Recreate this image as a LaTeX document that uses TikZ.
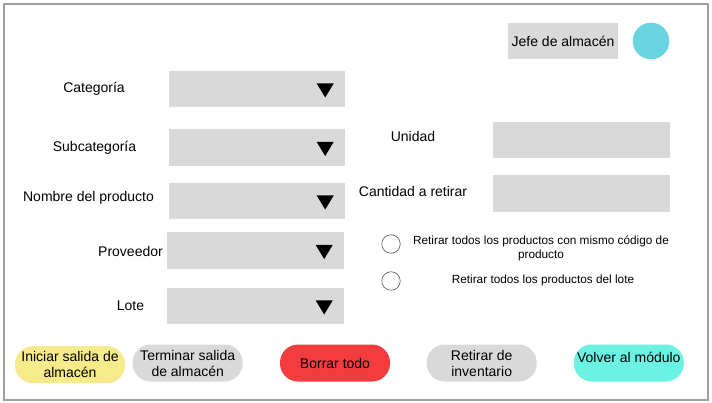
\documentclass[tikz,border=0pt]{standalone}
\usepackage{fontspec}
\setmainfont{Liberation Sans}
\definecolor{fieldgray}{RGB}{217,217,217}
\definecolor{framegray}{RGB}{158,158,158}
\definecolor{avatarcyan}{RGB}{104,213,224}
\definecolor{btnyellow}{RGB}{246,234,138}
\definecolor{btnred}{RGB}{243,60,62}
\definecolor{btnteal}{RGB}{108,242,226}
\definecolor{radiogray}{RGB}{90,90,90}
\tikzset{
  field/.style={fill=fieldgray, draw=none, inner sep=0pt, minimum width=#1},
  field/.default=176pt,
  lbl/.style={font=\fontsize{14}{16}\selectfont, inner sep=0pt, text=black},
  small/.style={font=\fontsize{11.8}{14}\selectfont, inner sep=0pt, align=center},
  btn/.style={rounded corners=18pt, minimum width=110pt, minimum height=37pt, inner sep=0pt,
     draw=none, font=\fontsize{14}{16}\selectfont, align=center},
  radio/.style={circle, draw=radiogray, line width=0.6pt, minimum size=18.5pt, inner sep=0pt},
  arrowtri/.style={fill=black, draw=none}
}
\begin{document}
\begin{tikzpicture}[x=1pt,y=-1pt]
\useasboundingbox (0,0) rectangle (712,403);
\fill[white] (0,0) rectangle (712,403);
\draw[framegray, line width=1.3pt] (4,4) rectangle (708,400);

% header
\node[field=110pt, minimum height=36pt, lbl] (jefe) at (563,41) {Jefe de almacén};
\node[circle, fill=avatarcyan, minimum size=36.6pt, inner sep=0pt] (avatar) at (651,41) {};

% dropdowns
\node[field=176pt, minimum height=36pt] (cat) at (257,89) {};
\node[field=176pt, minimum height=37pt] (sub) at (257,147.5) {};
\node[field=176pt, minimum height=36pt] (nom) at (257,201) {};
\node[field=177pt, minimum height=37pt] (prov) at (255.5,250.5) {};
\node[field=177pt, minimum height=36pt] (lote) at (255.5,306) {};

\foreach \n in {cat,sub,nom,prov,lote}{
  \fill[arrowtri] ([xshift=-28.5pt,yshift=5.5pt]\n.east) -- ([xshift=-11.5pt,yshift=5.5pt]\n.east) -- ([xshift=-20pt,yshift=-8.5pt]\n.east) -- cycle;
}

\node[lbl] (lcat) at (94,89) {Categoría};
\node[lbl] (lsub) at (94.5,147.5) {Subcategoría};
\node[lbl] (lnom) at (88.5,197.5) {Nombre del producto};
\node[lbl] (lprov) at (130.5,251) {Proveedor};
\node[lbl] (llote) at (130.5,306) {Lote};

% right fields
\node[lbl] (lunid) at (413,136.5) {Unidad};
\node[field=177pt, minimum height=36.6pt] (unid) at (581.5,140) {};
\node[lbl] (lcant) at (413,191.5) {Cantidad a retirar};
\node[field=177pt, minimum height=36.6pt] (cant) at (581.5,193.3) {};

% radios
\node[radio] (r1) at (391,244) {};
\node[small] (t1) at (541,248) {Retirar todos los productos con mismo código de\\producto};
\node[radio] (r2) at (391,281) {};
\node[small] (t2) at (543,280.3) {Retirar todos los productos del lote};

% buttons
\node[btn, fill=btnyellow] (b1) at (70,364.7) {Iniciar salida de\\almacén};
\node[btn, fill=fieldgray] (b2) at (187.7,363) {Terminar salida\\de almacén};
\node[btn, fill=btnred] (b3) at (335,363) {Borrar todo};
\node[btn, fill=fieldgray] (b4) at (481.7,363) {Retirar de\\inventario};
\node[btn, fill=btnteal] (b5) at (628.8,363) {};
\node[lbl] (b5t) at (628.8,357.5) {Volver al módulo};
\end{tikzpicture}
\end{document}
